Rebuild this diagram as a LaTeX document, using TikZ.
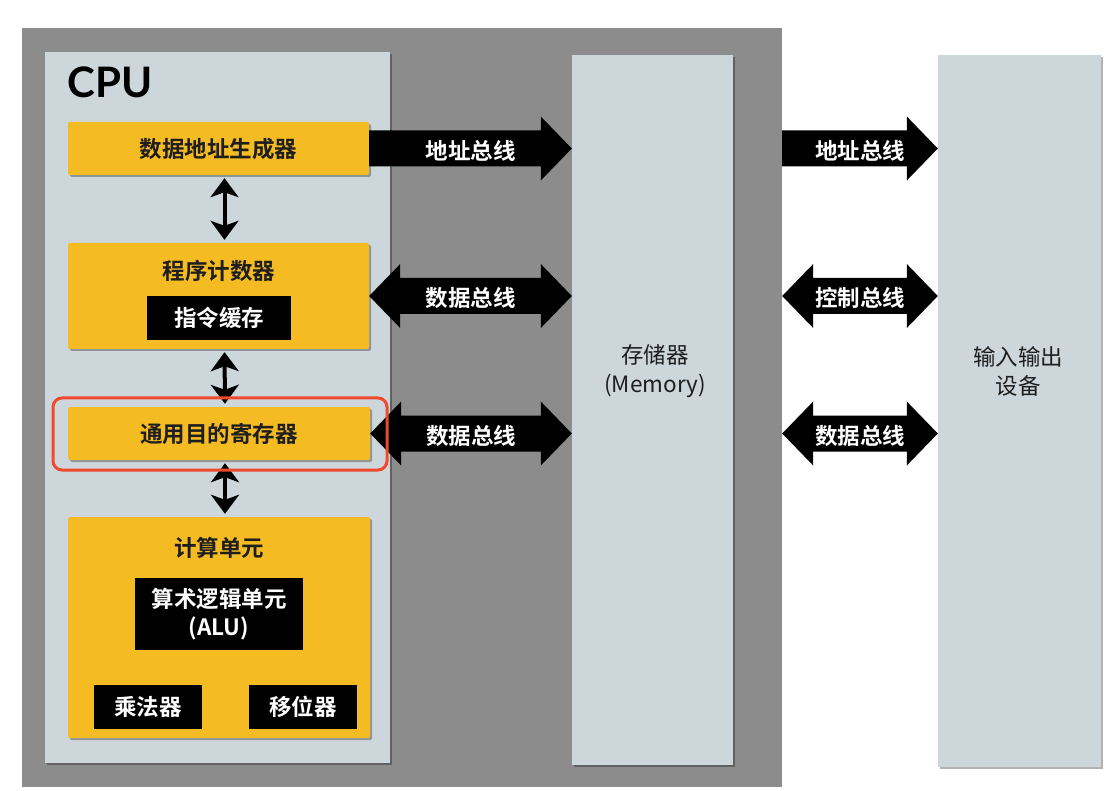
\documentclass[tikz,border=0pt]{standalone}
\usepackage{fontspec}
\setmainfont{Noto Sans CJK SC}[BoldFont={* Bold}]
\newfontfamily\headfont{Lato}
\usetikzlibrary{calc,arrows.meta,shadows}

\definecolor{frame}{HTML}{8C8C8C}
\definecolor{panel}{HTML}{CDD7DB}
\definecolor{unit}{HTML}{F4BB22}
\definecolor{mark}{HTML}{F04A2E}
\definecolor{ink}{HTML}{1E1E1E}

\tikzset{
  softshadow/.style={drop shadow={shadow xshift=2pt,shadow yshift=-2pt,opacity=.3,fill=black}},
  panelbox/.style={fill=panel,draw=none,rectangle,inner sep=0pt,softshadow},
  unitbox/.style={fill=unit,draw=none,rectangle,rounded corners=1.5pt,inner sep=0pt,softshadow,
    text=ink,font=\fontsize{22.5pt}{26pt}\selectfont\bfseries},
  blackbox/.style={fill=black,draw=none,rectangle,inner sep=0pt,text=white,align=center,
    font=\fontsize{22.5pt}{28pt}\selectfont\bfseries},
  unittitle/.style={text=ink,font=\fontsize{22.5pt}{26pt}\selectfont\bfseries},
  buslabel/.style={text=white,font=\fontsize{22.5pt}{26pt}\selectfont\bfseries,inner sep=0pt,yshift=-2pt},
  sidelabel/.style={text=ink,align=center,font=\fontsize{22.5pt}{29pt}\selectfont},
  vlink/.style={line width=4pt,black,{Stealth[length=19pt,width=28pt,inset=5pt]}-{Stealth[length=19pt,width=28pt,inset=5pt]},
    shorten <=3pt,shorten >=3pt},
  highlight/.style={draw=mark,line width=3pt,rounded corners=9pt,fill=none,rectangle,inner sep=0pt}
}

% one-way bus: tail point, tip point (same height), label
\newcommand{\busone}[3]{%
  \fill[black] let \p1=(#1), \p2=(#2) in
    (\x1,\y2+18pt) -- (\x2-31pt,\y2+18pt) -- (\x2-31pt,\y2+32pt) -- (\x2,\y2)
    -- (\x2-31pt,\y2-32pt) -- (\x2-31pt,\y2-18pt) -- (\x1,\y2-18pt) -- cycle;
  \path (#1) -- node[buslabel]{#3} (#2);
}
% two-way bus: left tip, right tip (same height), label
\newcommand{\bustwo}[3]{%
  \fill[black] let \p1=(#1), \p2=(#2) in
    (\x1,\y2) -- (\x1+31pt,\y2+32pt) -- (\x1+31pt,\y2+18pt) -- (\x2-31pt,\y2+18pt)
    -- (\x2-31pt,\y2+32pt) -- (\x2,\y2) -- (\x2-31pt,\y2-32pt) -- (\x2-31pt,\y2-18pt)
    -- (\x1+31pt,\y2-18pt) -- (\x1+31pt,\y2-32pt) -- cycle;
  \path (#1) -- node[buslabel]{#3} (#2);
}

\begin{document}
\begin{tikzpicture}[x=1pt,y=-1pt]
\useasboundingbox[fill=white] (0,0) rectangle (1119,791);

% outer frame and the three columns
\node[fill=frame,rectangle,inner sep=0pt,minimum width=760pt,minimum height=759pt] (bg) at (402,407.5) {};
\node[panelbox,minimum width=345pt,minimum height=711pt] (cpu) at (217.5,407.5) {};
\node[panelbox,minimum width=161pt,minimum height=710pt] (mem) at (652.5,410) {};
\node[panelbox,minimum width=163pt,minimum height=712pt] (io) at (1019.5,411) {};

\node[anchor=base west,inner sep=0pt,font=\headfont\bfseries\fontsize{42pt}{46pt}\selectfont,text=black] (cputitle) at (67,98) {CPU};

% CPU units
\node[unitbox,minimum width=301pt,minimum height=53pt] (agen) at (218.5,148.5) {数据地址生成器};

\node[unitbox,minimum width=301pt,minimum height=106pt] (pc) at (218.5,296) {};
\node[unittitle] (pctitle) at (219,271) {程序计数器};
\node[blackbox,minimum width=144pt,minimum height=44pt] (icache) at (219,318) {指令缓存};

\node[unitbox,minimum width=302pt,minimum height=53pt] (reg) at (219,433.5) {通用目的寄存器};

\node[unitbox,minimum width=302pt,minimum height=221pt] (exu) at (219,627.5) {};
\node[unittitle] (exutitle) at (219,548) {计算单元};
\node[blackbox,minimum width=168pt,minimum height=72pt] (alu) at (219,614) {算术逻辑单元\\(ALU)};
\node[blackbox,minimum width=108pt,minimum height=44pt] (mul) at (148,707) {乘法器};
\node[blackbox,minimum width=108pt,minimum height=44pt] (shift) at (303,707) {移位器};

% links inside the CPU
\draw[vlink] ([xshift=6pt]agen.south) -- ([xshift=6pt]pc.north);
\draw[vlink] ([xshift=6pt]pc.south) -- ([xshift=6pt]reg.north);
\draw[vlink] ([xshift=6pt]reg.south) -- ([xshift=6pt]exu.north);

% side labels
\node[sidelabel] (memlabel) at (655,371) {存储器\\(Memory)};
\node[sidelabel] (iolabel) at (1018,371) {输入输出\\设备};

% buses CPU <-> memory
\busone{agen.east}{mem.west |- agen.east}{地址总线}
\bustwo{pc.east}{mem.west |- pc.east}{数据总线}
\bustwo{reg.east}{mem.west |- reg.east}{数据总线}

% buses to the I/O devices
\busone{bg.east |- agen.east}{io.west |- agen.east}{地址总线}
\bustwo{bg.east |- pc.east}{io.west |- pc.east}{控制总线}
\bustwo{bg.east |- reg.east}{io.west |- reg.east}{数据总线}

% highlighted register
\node[highlight,minimum width=334pt,minimum height=72pt] (regmark) at (220,434) {};
\end{tikzpicture}
\end{document}
